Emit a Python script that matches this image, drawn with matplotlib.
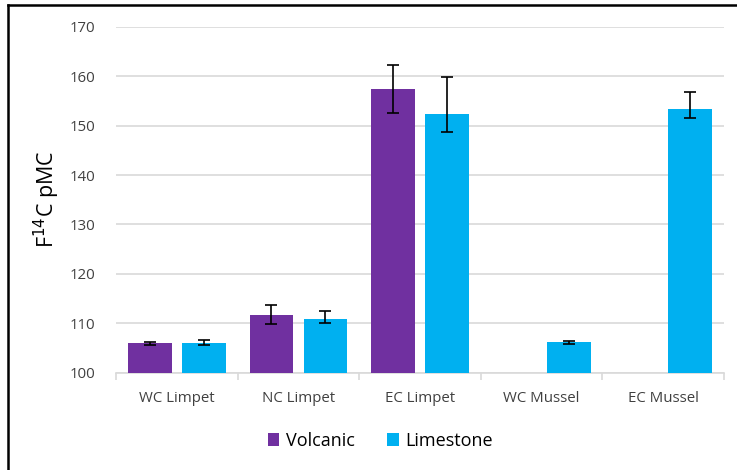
import matplotlib.pyplot as plt
import numpy as np
from matplotlib.lines import Line2D

categories = ['WC Limpet', 'NC Limpet', 'EC Limpet', 'WC Mussel', 'EC Mussel']
volcanic = [106.0, 111.7, 157.3, np.nan, np.nan]
volcanic_lo = [0.3, 1.9, 4.8, 0, 0]
volcanic_hi = [0.3, 2.1, 4.9, 0, 0]
limestone = [106.1, 111.0, 152.3, 106.2, 153.3]
limestone_lo = [0.4, 0.9, 3.6, 0.3, 1.8]
limestone_hi = [0.5, 1.5, 7.4, 0.3, 3.5]

purple = '#7030a0'
blue = '#00b0f0'

plt.rcParams['font.family'] = ['Open Sans', 'DejaVu Sans']

fig = plt.figure(figsize=(7.37, 4.7), dpi=100)
ax = fig.add_axes([0.1574, 0.2064, 0.825, 0.7372])

x = np.arange(len(categories))
w = 0.36
off = 0.222
err_kw = dict(ecolor='black', elinewidth=1.2, capsize=4, capthick=1.2)
ax.bar(x - off, volcanic, w, color=purple, label='Volcanic',
       yerr=[volcanic_lo, volcanic_hi], error_kw=err_kw, zorder=3)
ax.bar(x + off, limestone, w, color=blue, label='Limestone',
       yerr=[limestone_lo, limestone_hi], error_kw=err_kw, zorder=3)

ax.set_ylim(100, 170)
ax.set_xlim(-0.5, len(categories) - 0.5)
ax.set_yticks(np.arange(100, 171, 10))
ax.yaxis.grid(True, color='#d9d9d9', linewidth=1.2, zorder=0)
ax.set_axisbelow(True)
for s in ['top', 'right', 'left']:
    ax.spines[s].set_visible(False)
ax.spines['bottom'].set_color('#d9d9d9')
ax.spines['bottom'].set_linewidth(1.2)

ax.set_xticks(x)
ax.set_xticklabels(categories, fontsize=10.8, color='#404040')
ax.tick_params(axis='x', which='major', length=0, pad=13)
ax.set_xticks(np.arange(-0.5, len(categories), 1), minor=True)
ax.tick_params(axis='x', which='minor', length=5, color='#d9d9d9', width=1.2)
ax.tick_params(axis='y', length=0, labelsize=10.8, labelcolor='#404040', pad=15)

ax.set_ylabel('F$^{14}$C pMC', fontsize=15.5, color='black', labelpad=5)

fig.legend(loc='center', bbox_to_anchor=(0.516, 0.062), ncol=2, frameon=False,
           fontsize=13, handlelength=0.65, handleheight=0.65, handletextpad=0.35,
           columnspacing=1.8)

# outer border (left and top)
fig.add_artist(Line2D([0.0115, 0.0115], [0, 0.989], transform=fig.transFigure,
                      color='black', linewidth=1.8))
fig.add_artist(Line2D([0.0115, 1.0], [0.989, 0.989], transform=fig.transFigure,
                      color='black', linewidth=1.8))

plt.savefig('out.png', dpi=100)
